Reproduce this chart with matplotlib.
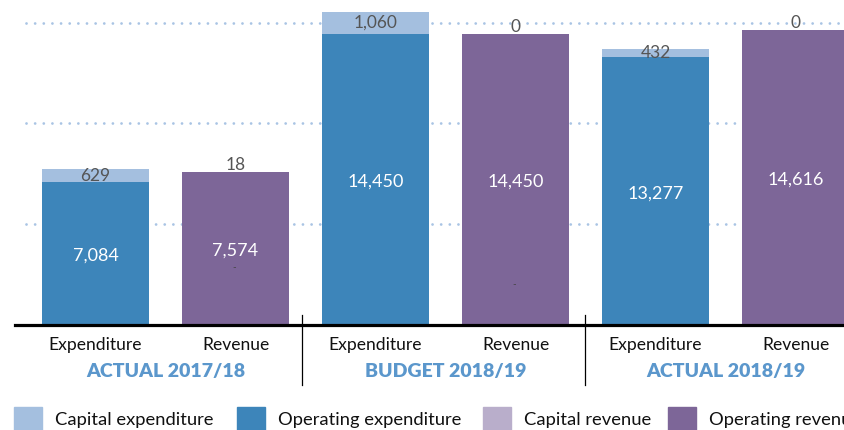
import matplotlib.pyplot as plt
from matplotlib.patches import Rectangle

plt.rcParams['font.family'] = ['Lato', 'DejaVu Sans']

# data
groups = ['ACTUAL 2017/18', 'BUDGET 2018/19', 'ACTUAL 2018/19']
bar_names = ['Expenditure', 'Revenue'] * 3
operating = [7084, 7574, 14450, 14450, 13277, 14616]
capital = [629, 18, 1060, 0, 432, 0]
legend_labels = ['Capital expenditure', 'Operating expenditure', 'Capital revenue', 'Operating revenue']

c_cap_exp = '#a4bfdf'
c_op_exp = '#3d85ba'
c_cap_rev = '#b9aecb'
c_op_rev = '#7d6698'

W, H = 845, 430
fig = plt.figure(figsize=(W / 100, H / 100), dpi=100)
base = 1 - 325 / H
ax = fig.add_axes([0, base, 1, 1 - base])
ax.set_xlim(-95.5 / 140, (W - 95.5) / 140)
ymax = 325 * 49.6
ax.set_ylim(0, ymax)
ax.axis('off')
upp = 49.6  # data units per pixel

# dotted gridlines
for g in [5000, 10000, 15000]:
    ax.plot([-0.5, 6], [g, g], color='#a9c4e4', lw=2.0,
            linestyle=(0, (0.01, 3.1)), dash_capstyle='round', zorder=0)

x = list(range(len(operating)))
op_cols = [c_op_exp if i % 2 == 0 else c_op_rev for i in x]
cap_cols = [c_cap_exp if i % 2 == 0 else c_cap_rev for i in x]
ax.bar(x, operating, width=0.764, color=op_cols, zorder=2)
ax.bar(x, capital, width=0.764, bottom=operating, color=cap_cols, zorder=2)

for i in x:
    ax.text(i, operating[i] / 2 - 2 * upp, f'{operating[i]:,}', ha='center', va='center',
            color='white', fontsize=13, zorder=3)
    if capital[i] < 200:
        yy = operating[i] + capital[i] + 7 * upp
    else:
        yy = operating[i] + capital[i] / 2
    ax.text(i, yy, f'{capital[i]:,}', ha='center', va='center',
            color='#555555', fontsize=12.5, zorder=3)

# small dashes in revenue bars
ax.text(1 - 0.01, 57 * upp, '-', ha='center', va='center', color='#444444', fontsize=7, zorder=3)
ax.text(3 - 0.01, 40 * upp, '-', ha='center', va='center', color='#444444', fontsize=7, zorder=3)

# baseline and separators
ax.plot([-0.575, 6], [0, 0], color='black', lw=2.3, clip_on=False, zorder=4)
for sx in [1.475, 3.496]:
    ax.plot([sx, sx], [10 * upp, -60 * upp], color='black', lw=0.9, clip_on=False)

for i in x:
    ax.text(i, -20 * upp, bar_names[i], ha='center', va='center', fontsize=12.6,
            color='#111111')
for k, g in enumerate(groups):
    ax.text(2 * k + 0.5, -47 * upp, g, ha='center', va='center', fontsize=14,
            fontweight='heavy', color='#5b97cc')

# legend
leg_x = [14, 237, 483, 668]
leg_cols = [c_cap_exp, c_op_exp, c_cap_rev, c_op_rev]
for lx, lc, lab in zip(leg_x, leg_cols, legend_labels):
    fig.patches.append(Rectangle((lx / W, 1 - 431 / H), 28 / W, 24 / H,
                                 transform=fig.transFigure, color=lc))
    fig.text((lx + 41) / W, 1 - 420 / H, lab, ha='left', va='center',
             fontsize=13.2, color='#111111')

fig.savefig('out.png', dpi=100)
